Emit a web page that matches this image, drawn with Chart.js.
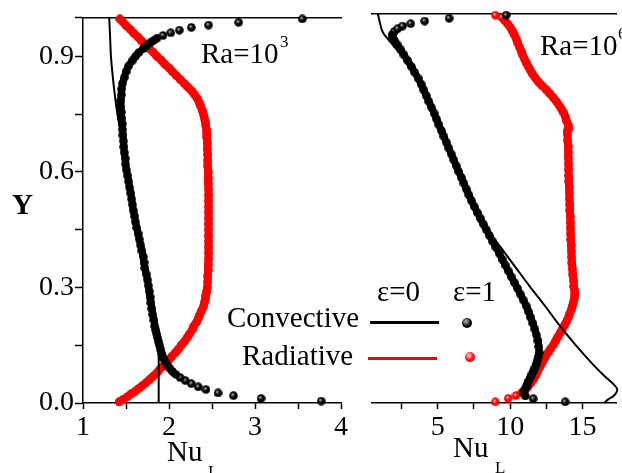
<!DOCTYPE html>
<html>
<head>
<meta charset="utf-8">
<script src="https://cdn.jsdelivr.net/npm/chart.js@4"></script>
<style>
body { margin: 0; background: #fff; }
#wrap { position: relative; width: 622px; height: 473px; overflow: hidden; font-family: "Liberation Serif", serif; color: #000; }
#left { position: absolute; left: 0; top: 0; }
#right { position: absolute; left: 350px; top: 0; }
.t { position: absolute; font-size: 29px; line-height: 1; white-space: nowrap; }
.s { position: absolute; font-size: 17px; line-height: 1; }
.ln { position: absolute; height: 3px; width: 69px; }
.ball { position: absolute; width: 10px; height: 10px; border-radius: 50%; }
</style>
</head>
<body>
<div id="wrap">
  <canvas id="left" width="350" height="473"></canvas>
  <canvas id="right" width="272" height="473"></canvas>

  <div class="t" style="left:12px;top:190px;font-weight:bold">Y</div>
  <div class="t" style="left:167px;top:437px">Nu</div>
  <div class="s" style="left:208px;top:463px">L</div>
  <div class="t" style="left:453px;top:433px">Nu</div>
  <div class="s" style="left:495px;top:459px">L</div>

  <div class="t" style="left:201px;top:39px">Ra=10</div>
  <div class="s" style="left:280px;top:33px">3</div>
  <div class="t" style="left:540px;top:31px">Ra=10</div>
  <div class="s" style="left:618px;top:25px">6</div>

  <div class="t" style="left:377px;top:277px">ε=0</div>
  <div class="t" style="left:453px;top:277px">ε=1</div>
  <div class="t" style="left:227px;top:303px">Convective</div>
  <div class="t" style="left:242px;top:341px">Radiative</div>
  <div class="ln" style="left:370px;top:321px;background:#000"></div>
  <div class="ln" style="left:368px;top:357px;background:#f00"></div>
  <div class="ball" style="left:462px;top:318px;background:radial-gradient(circle at 40% 35%, #bbb 0, #000 55%)"></div>
  <div class="ball" style="left:465px;top:352px;background:radial-gradient(circle at 40% 35%, #fcc 0, #f00 55%)"></div>
</div>

<script>
// Ra = 1e3, convective, eps = 0 (line)
let conv0LoY = [1.0, 0.95, 0.9, 0.85, 0.8, 0.75, 0.7, 0.65, 0.6, 0.55, 0.5, 0.45, 0.4, 0.35, 0.3, 0.25, 0.2, 0.17, 0.15, 0.12, 0.08, 0.0];
let conv0LoX = [1.305, 1.315, 1.325, 1.345, 1.37, 1.40, 1.44, 1.47, 1.51, 1.55, 1.59, 1.63, 1.68, 1.72, 1.76, 1.80, 1.84, 1.865, 1.875, 1.88, 1.88, 1.88];

// Ra = 1e3, convective, eps = 1 (dots)
let conv1LoY = [0.005, 0.012, 0.019, 0.026, 0.035, 0.042, 0.050, 0.058, 0.066, 0.074, 0.082, 0.090, 0.098, 0.106, 0.114, 0.122, 0.130, 0.140, 0.150, 0.160, 0.170, 0.180, 0.190, 0.200,
    0.215, 0.230, 0.245, 0.260, 0.275, 0.290, 0.305, 0.320, 0.335, 0.350, 0.365, 0.380, 0.395, 0.410, 0.425, 0.440, 0.455, 0.470, 0.485, 0.500,
    0.515, 0.530, 0.545, 0.560, 0.575, 0.590, 0.605, 0.620, 0.635, 0.650, 0.665, 0.680, 0.695, 0.710, 0.725, 0.740, 0.755, 0.770, 0.785, 0.800,
    0.815, 0.830, 0.845, 0.860, 0.875, 0.888, 0.900, 0.910, 0.920, 0.928, 0.935, 0.941, 0.947, 0.954, 0.961, 0.968, 0.975, 0.981, 0.988, 0.997];
let conv1LoX = [3.77, 3.07, 2.75, 2.57, 2.43, 2.34, 2.26, 2.19, 2.13, 2.08, 2.04, 2.01, 1.98, 1.96, 1.94, 1.925, 1.91, 1.90, 1.89, 1.875, 1.865, 1.855, 1.845, 1.835,
    1.825, 1.81, 1.80, 1.79, 1.78, 1.77, 1.76, 1.75, 1.735, 1.72, 1.71, 1.70, 1.685, 1.67, 1.655, 1.64, 1.625, 1.61, 1.60, 1.585,
    1.575, 1.565, 1.555, 1.54, 1.53, 1.52, 1.505, 1.495, 1.49, 1.48, 1.475, 1.47, 1.465, 1.46, 1.455, 1.45, 1.445, 1.44, 1.44, 1.445,
    1.45, 1.46, 1.48, 1.50, 1.53, 1.57, 1.61, 1.65, 1.70, 1.74, 1.78, 1.82, 1.86, 1.93, 2.02, 2.12, 2.26, 2.46, 2.81, 3.55];

// Ra = 1e3, radiative, eps = 1 (dots)
let rad1LoY = [0.003, 0.010, 0.017, 0.024, 0.031, 0.038, 0.045, 0.052, 0.060, 0.068, 0.076, 0.084, 0.092, 0.100, 0.110, 0.120, 0.130, 0.140, 0.150, 0.160,
    0.170, 0.180, 0.190, 0.200, 0.210, 0.220, 0.230, 0.240, 0.250, 0.260, 0.270, 0.280, 0.290, 0.300,
    0.315, 0.330, 0.345, 0.360, 0.375, 0.390, 0.405, 0.420, 0.435, 0.450, 0.465, 0.480, 0.495, 0.510, 0.525, 0.540, 0.555, 0.570, 0.585, 0.600,
    0.615, 0.630, 0.645, 0.660, 0.675, 0.690, 0.700, 0.710, 0.720, 0.730, 0.740, 0.750, 0.760, 0.770, 0.780, 0.790, 0.800,
    0.810, 0.820, 0.830, 0.840, 0.850, 0.860, 0.870, 0.880, 0.890, 0.900, 0.910, 0.920, 0.930, 0.940, 0.950, 0.960, 0.970, 0.980, 0.990, 0.997];
let rad1LoX = [1.42, 1.47, 1.52, 1.56, 1.61, 1.65, 1.69, 1.73, 1.77, 1.81, 1.85, 1.88, 1.91, 1.95, 1.99, 2.03, 2.07, 2.11, 2.14, 2.18,
    2.21, 2.24, 2.27, 2.29, 2.32, 2.34, 2.36, 2.38, 2.40, 2.41, 2.42, 2.43, 2.44, 2.445,
    2.45, 2.45, 2.455, 2.455, 2.46, 2.46, 2.46, 2.46, 2.46, 2.46, 2.46, 2.46, 2.46, 2.46, 2.46, 2.46, 2.46, 2.455, 2.455, 2.455,
    2.45, 2.45, 2.45, 2.445, 2.445, 2.44, 2.44, 2.435, 2.43, 2.42, 2.41, 2.40, 2.385, 2.37, 2.35, 2.33, 2.30,
    2.265, 2.22, 2.175, 2.13, 2.085, 2.04, 2.00, 1.95, 1.91, 1.86, 1.82, 1.77, 1.73, 1.68, 1.64, 1.59, 1.55, 1.50, 1.46, 1.43];

// Ra = 1e6, convective, eps = 0 (line)
let conv0HiY = [1.0, 0.98, 0.96, 0.95, 0.94, 0.92, 0.90, 0.85, 0.80, 0.75, 0.70, 0.65, 0.60, 0.55, 0.50, 0.45, 0.40, 0.35, 0.30, 0.25, 0.20, 0.15, 0.10, 0.07, 0.05, 0.035, 0.02, 0.01, 0.0];
let conv0HiX = [0.86, 0.98, 1.12, 1.25, 1.45, 1.9, 2.35, 3.25, 3.95, 4.6, 5.15, 5.7, 6.25, 6.85, 7.5, 8.35, 9.35, 10.35, 11.35, 12.4, 13.4, 14.5, 15.7, 16.5, 17.1, 17.4, 17.2, 16.8, 16.5];

// Ra = 1e6, convective, eps = 1 (dots)
let conv1HiY = [0.003, 0.011, 0.018, 0.026, 0.034, 0.042, 0.050, 0.058, 0.066, 0.074, 0.082, 0.090, 0.100, 0.110, 0.120, 0.130, 0.145, 0.160, 0.175, 0.190, 0.205, 0.220, 0.235,
    0.250, 0.265, 0.280, 0.295, 0.310, 0.325, 0.340, 0.355, 0.370, 0.385, 0.400, 0.415, 0.430, 0.445, 0.460, 0.475, 0.490, 0.505, 0.520, 0.535, 0.550,
    0.565, 0.580, 0.595, 0.610, 0.625, 0.640, 0.655, 0.670, 0.685, 0.700, 0.715, 0.730, 0.745, 0.760, 0.775, 0.790, 0.805, 0.820, 0.835, 0.850,
    0.865, 0.880, 0.895, 0.910, 0.922, 0.932, 0.940, 0.947, 0.955, 0.962, 0.969, 0.975, 0.982, 0.989, 0.997];
let conv1HiX = [13.8, 11.6, 11.05, 10.95, 11.0, 11.1, 11.2, 11.3, 11.4, 11.5, 11.6, 11.7, 11.8, 11.88, 11.95, 12.0, 11.98, 11.92, 11.82, 11.7, 11.57, 11.42, 11.27,
    11.1, 10.9, 10.7, 10.5, 10.28, 10.07, 9.86, 9.65, 9.44, 9.23, 9.02, 8.8, 8.58, 8.36, 8.14, 7.93, 7.72, 7.52, 7.33, 7.15, 6.97,
    6.8, 6.62, 6.44, 6.27, 6.1, 5.93, 5.76, 5.59, 5.42, 5.25, 5.08, 4.91, 4.74, 4.56, 4.38, 4.2, 4.02, 3.84, 3.63, 3.4,
    3.16, 2.92, 2.66, 2.4, 2.18, 2.0, 1.88, 1.84, 1.99, 2.22, 2.56, 3.12, 4.09, 5.78, 9.72];

// Ra = 1e6, radiative, eps = 1 (dots)
let rad1HiY = [0.003, 0.012, 0.019, 0.026, 0.033, 0.041, 0.050, 0.060, 0.070, 0.080, 0.090, 0.100, 0.110, 0.120, 0.130, 0.140, 0.150, 0.160, 0.170, 0.180,
    0.190, 0.200, 0.210, 0.220, 0.230, 0.240, 0.250, 0.260, 0.270, 0.280, 0.290, 0.300, 0.315, 0.330, 0.345, 0.360, 0.375, 0.390, 0.405, 0.420,
    0.435, 0.450, 0.465, 0.480, 0.495, 0.510, 0.525, 0.540, 0.555, 0.570, 0.585, 0.600, 0.615, 0.630, 0.645, 0.660, 0.675, 0.690, 0.700, 0.705,
    0.715, 0.725, 0.735, 0.745, 0.755, 0.765, 0.775, 0.785, 0.795, 0.805, 0.815, 0.825, 0.835, 0.845, 0.855, 0.865, 0.875, 0.885, 0.895, 0.905,
    0.915, 0.925, 0.935, 0.945, 0.955, 0.965, 0.975, 0.984, 0.991, 0.997];
let rad1HiX = [8.97, 9.86, 10.4, 10.78, 11.02, 11.22, 11.4, 11.6, 11.75, 11.88, 12.0, 12.15, 12.3, 12.45, 12.62, 12.8, 13.0, 13.15, 13.3, 13.45,
    13.6, 13.75, 13.9, 14.02, 14.12, 14.22, 14.3, 14.38, 14.44, 14.48, 14.45, 14.4, 14.38, 14.33, 14.3, 14.27, 14.25, 14.23, 14.21, 14.2,
    14.18, 14.17, 14.16, 14.15, 14.13, 14.12, 14.1, 14.09, 14.07, 14.06, 14.05, 14.04, 14.03, 14.02, 14.01, 14.0, 13.98, 13.96, 13.95, 14.05,
    14.0, 13.9, 13.82, 13.72, 13.55, 13.38, 13.2, 12.98, 12.75, 12.5, 12.22, 11.97, 11.75, 11.56, 11.4, 11.25, 11.1, 10.98, 10.86, 10.75,
    10.64, 10.53, 10.43, 10.32, 10.18, 10.02, 9.82, 9.6, 9.43, 8.97];

let loTicksX = [1, 2, 3, 4];
let hiTicksX = [5, 10, 15];
let ticksY = [0, 0.3, 0.6, 0.9];

Chart.defaults.font.family = '"Liberation Serif", serif';
Chart.defaults.color = "#000";

function pts(xs, ys) {
    return xs.map((x, i) => ({x: x, y: ys[i]}));
}

function makeBall(dark, light, size) {
    let c = document.createElement("canvas");
    c.width = size;
    c.height = size;
    let g = c.getContext("2d");
    let r = size / 2;
    let grad = g.createRadialGradient(r * 0.75, r * 0.7, 0, r, r, r);
    grad.addColorStop(0, light);
    grad.addColorStop(0.5, dark);
    grad.addColorStop(1, dark);
    g.fillStyle = grad;
    g.beginPath();
    g.arc(r, r, r - 0.2, 0, Math.PI * 2);
    g.fill();
    return c;
}

let blackBall = makeBall("#000", "#c8c8c8", 9);
let redBall = makeBall("#f00", "#ffd0d0", 9);

function isTick(v, list) {
    return list.some(t => Math.abs(t - v) < 1e-6);
}

function lineSet(xs, ys) {
    return {
        data: pts(xs, ys),
        showLine: true,
        borderColor: "#000",
        borderWidth: 2,
        pointRadius: 0,
        tension: 0.35,
        clip: false
    };
}

// the dense middle part of a dotted series, drawn as a thick stroke under the dots
function bandSet(xs, ys, from, to, color, width) {
    return {
        data: pts(xs.slice(from, to), ys.slice(from, to)),
        showLine: true,
        borderColor: color,
        borderWidth: width,
        borderCapStyle: "round",
        pointRadius: 0,
        tension: 0.3,
        clip: false
    };
}

function dotSet(xs, ys, ball) {
    return {
        data: pts(xs, ys),
        showLine: false,
        pointStyle: ball,
        pointRadius: 4.5,
        clip: false
    };
}

function axes(min, max, step, labels, hideY) {
    let y = {
        display: !hideY,
        min: 0,
        max: 1,
        ticks: {
            stepSize: 0.15,
            padding: 1,
            font: {size: 28},
            callback: v => isTick(v, ticksY) ? v.toFixed(1) : ""
        },
        grid: {drawOnChartArea: false, tickLength: 8, tickColor: "#000", tickWidth: 1.5},
        border: {color: "#000", width: 1.5}
    };
    if(!hideY) y.afterFit = a => { a.width = 83; };
    return {
        x: {
            type: "linear",
            position: "bottom",
            min: min,
            max: max,
            afterBuildTicks: a => {
                a.ticks = a.ticks.filter(t => Math.abs(t.value / step - Math.round(t.value / step)) < 1e-6);
            },
            afterFit: a => { a.height = 70; },
            ticks: {
                stepSize: step,
                includeBounds: false,
                autoSkip: false,
                maxRotation: 0,
                padding: 2,
                font: {size: 28},
                callback: v => isTick(v, labels) ? String(v) : ""
            },
            grid: {drawOnChartArea: false, tickLength: 6, tickColor: "#000", tickWidth: 1.5},
            border: {color: "#000", width: 1.5}
        },
        xTop: {
            type: "linear",
            position: "top",
            min: min,
            max: max,
            afterFit: a => { a.height = 14; },
            ticks: {display: false},
            grid: {display: false},
            border: {color: "#000", width: 1.5}
        },
        y: y
    };
}

new Chart("left", {
    type: "scatter",
    data: {
        datasets: [
            lineSet(conv0LoX, conv0LoY),
            bandSet(conv1LoX, conv1LoY, 9, 77, "#000", 7),
            dotSet(conv1LoX, conv1LoY, blackBall),
            bandSet(rad1LoX, rad1LoY, 0, rad1LoX.length, "#f00", 8),
            dotSet(rad1LoX, rad1LoY, redBall)
        ]
    },
    options: {
        responsive: false,
        animation: false,
        devicePixelRatio: 1,
        layout: {padding: {left: 0, right: 8, top: 0, bottom: 0}},
        plugins: {legend: {display: false}, tooltip: {enabled: false}},
        scales: axes(1, 4, 0.5, loTicksX, false)
    }
});

new Chart("right", {
    type: "scatter",
    data: {
        datasets: [
            lineSet(conv0HiX, conv0HiY),
            bandSet(conv1HiX, conv1HiY, 2, 72, "#000", 7),
            dotSet(conv1HiX, conv1HiY, blackBall),
            bandSet(rad1HiX, rad1HiY, 3, 88, "#f00", 8),
            dotSet(rad1HiX, rad1HiY, redBall)
        ]
    },
    options: {
        responsive: false,
        animation: false,
        devicePixelRatio: 1,
        layout: {padding: {left: 22, right: 0, top: 0, bottom: 0}},
        plugins: {legend: {display: false}, tooltip: {enabled: false}},
        scales: axes(0.45, 17.35, 2.5, hiTicksX, true)
    }
});
</script>
</body>
</html>
